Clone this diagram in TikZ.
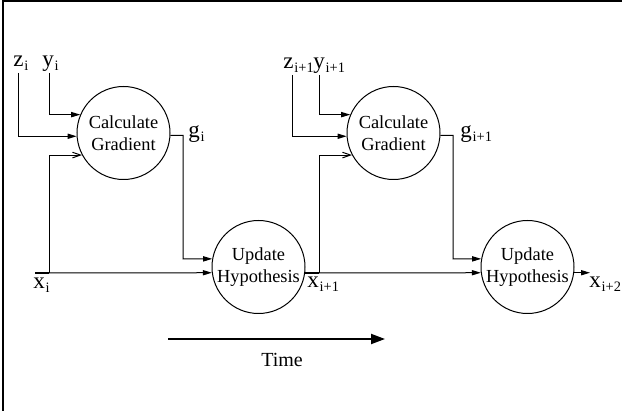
\documentclass[tikz,border=0pt]{standalone}
\usepackage{fontspec}
\setmainfont{Liberation Serif}
\usetikzlibrary{arrows.meta,positioning}
\definecolor{olInk}{HTML}{000000}
\newcommand{\olsub}[1]{\kern0.4pt\raisebox{-1.6pt}{\fontsize{7.2}{8}\selectfont #1}}
\tikzset{
  ol diagram/.style={x=0.5pt, y=-0.5pt, text=olInk},
  ol unit/.style={circle, draw=olInk, line width=0.5pt, minimum size=46.5pt,
    inner sep=0pt, align=center, font=\fontsize{9.2}{11}\selectfont},
  ol wire/.style={draw=olInk, line width=0.5pt},
  ol arrow/.style={ol wire, -{Triangle[length=4.5pt,width=2.6pt]}},
  ol thin arrow/.style={ol wire, -{Straight Barb[length=4pt,width=2.8pt]}},
  ol tap/.style={ol wire, line width=1.2pt},
  ol label/.style={font=\fontsize{11.5}{13}\selectfont, anchor=base west, inner sep=0pt},
  ol time/.style={draw=olInk, line width=1pt, -{Triangle[length=7pt,width=5pt]}},
  ol frame/.style={draw=olInk, line width=0.8pt}
}

\begin{document}
\begin{tikzpicture}[ol diagram]
\useasboundingbox (0,0) rectangle (622,411);
\draw[ol frame] (3,411) -- (3,1) -- (622,1);

% first step
\node[ol unit] (cg1) at (123.5,133) {Calculate\\Gradient};
\node[ol unit] (uh1) at (258.5,267) {Update\\Hypothesis};
\coordinate (zin1) at (18,73);
\coordinate (yin1) at (49,73);
\coordinate (xin1) at (35,273);
\coordinate (xb1) at (49,273);
\coordinate (gb1) at (183,259);
\node[ol label] (zl1) at (13,67) {z\olsub{i}};
\node[ol label] (yl1) at (42,67) {y\olsub{i}};
\node[ol label] (gl1) at (188,138) {g\olsub{i}};
\node[ol label] (xl1) at (33,289) {x\olsub{i}};
\draw[ol arrow] (yin1) |- (cg1.157);
\draw[ol arrow] (zin1) |- (cg1.184);
\draw[ol thin arrow] (xb1) |- (cg1.208);
\draw[ol tap] (xin1) -- (xb1);
\draw[ol arrow] (xb1) -- (uh1.187);
\draw[ol arrow] (cg1.-3) -| (gb1) -- (uh1.170);

% second step
\node[ol unit] (cg2) at (393.5,133) {Calculate\\Gradient};
\node[ol unit] (uh2) at (527.5,267) {Update\\Hypothesis};
\coordinate (zin2) at (292,75);
\coordinate (yin2) at (319,75);
\coordinate (xb2) at (319,273);
\coordinate (gb2) at (453,259);
\coordinate (xout) at (590,273);
\node[ol label] (zl2) at (283,69) {z\olsub{i+1}};
\node[ol label] (yl2) at (313,69) {y\olsub{i+1}};
\node[ol label] (gl2) at (460,138) {g\olsub{i+1}};
\node[ol label] (xl2) at (307,288) {x\olsub{i+1}};
\node[ol label] (xl3) at (589,288) {x\olsub{i+2}};
\draw[ol arrow] (yin2) |- (cg2.157);
\draw[ol arrow] (zin2) |- (cg2.184);
\draw[ol thin arrow] (xb2) |- (cg2.208);
\draw[ol tap] (uh1.-7) -- (uh1.-7 -| xb2);
\draw[ol arrow] (xb2) -- (uh2.187);
\draw[ol arrow] (cg2.-3) -| (gb2) -- (uh2.170);
\draw[ol arrow] (uh2.-7) -- (uh2.-7 -| xout);

% time axis
\coordinate (ts) at (168,339);
\coordinate (te) at (385,339);
\draw[ol time] (ts) -- (te);
\node[font=\fontsize{10}{12}\selectfont] (time) at (282,360) {Time};
\end{tikzpicture}
\end{document}
